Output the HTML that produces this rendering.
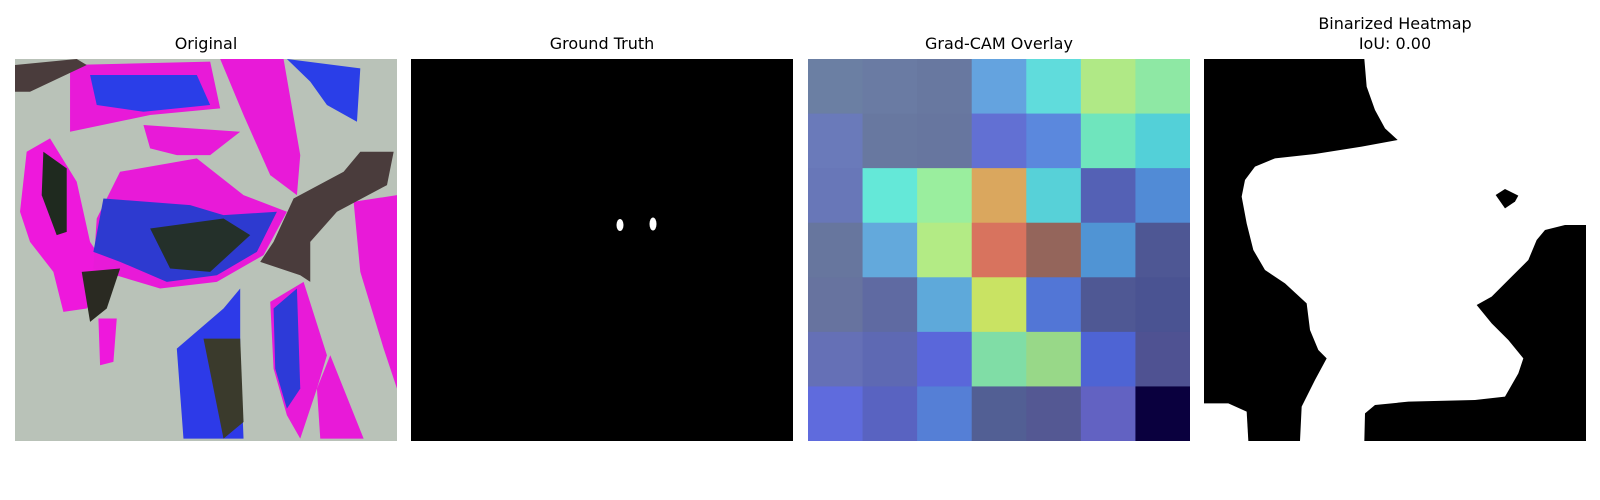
<!DOCTYPE html>
<html><head><meta charset="utf-8">
<style>
body{margin:0;background:#fff;width:1600px;height:500px;position:relative;overflow:hidden;font-family:"Liberation Sans","DejaVu Sans",sans-serif;}
.t{position:absolute;font-size:16px;color:#000;text-align:center;width:382px;line-height:20px;font-family:"DejaVu Sans","Liberation Sans",sans-serif;}
.p{position:absolute;top:59px;width:382px;height:382px;}
</style></head><body>
<div class="t" style="left:15px;top:34px">Original</div>
<div class="t" style="left:411px;top:34px">Ground Truth</div>
<div class="t" style="left:808px;top:34px">Grad-CAM Overlay</div>
<div class="t" style="left:1204px;top:14px">Binarized Heatmap<br>IoU: 0.00</div>

<svg class="p" style="left:15px" viewBox="15 12 1145 1145" preserveAspectRatio="none">
<rect x="15" y="12" width="1145" height="1145" fill="#b9c2b8"/>
<path d="M180,30 L600,20 L630,160 L420,180 L180,230 Z" fill="#e81ad8"/>
<path d="M240,60 L560,60 L600,150 L400,170 L260,150 Z" fill="#2a3ee8"/>
<path d="M630,12 L820,12 L870,300 L860,420 L780,360 L700,180 Z" fill="#e81ad8"/>
<path d="M830,12 L1050,40 L1040,200 L950,150 L900,80 Z" fill="#2a3ee8"/>
<path d="M400,210 L690,230 L600,300 L500,300 L420,280 Z" fill="#e81ad8"/>
<path d="M50,290 L120,250 L200,380 L240,560 L300,650 L230,760 L160,770 L130,650 L60,560 L30,470 Z" fill="#ee18dc"/>
<path d="M100,290 L170,340 L170,530 L140,540 L95,420 Z" fill="#1f2a1f"/>
<path d="M330,350 L560,310 L700,420 L830,470 L760,600 L620,680 L450,700 L250,640 L260,490 Z" fill="#e81ad8"/>
<path d="M280,430 L540,450 L640,480 L800,470 L740,590 L620,660 L470,680 L330,620 L250,590 Z" fill="#2d3ad0"/>
<path d="M420,520 L640,490 L720,540 L600,650 L480,640 Z" fill="#24302a"/>
<path d="M215,650 L330,640 L290,760 L240,800 Z" fill="#2a2a22"/>
<path d="M265,790 L320,790 L310,920 L270,930 Z" fill="#ee18dc"/>
<path d="M500,880 L640,760 L690,700 L690,900 L700,1150 L520,1150 Z" fill="#2d3ae8"/>
<path d="M580,850 L690,850 L700,1100 L640,1150 Z" fill="#3a3a2c"/>
<path d="M780,740 L880,680 L950,900 L920,1000 L870,1150 L830,1080 L790,940 Z" fill="#e81ad8"/>
<path d="M790,760 L860,700 L870,1000 L830,1060 L795,940 Z" fill="#2d3ad8"/>
<path d="M920,1000 L960,900 L1060,1150 L930,1150 Z" fill="#e81ad8"/>
<path d="M1030,440 L1160,420 L1160,1000 L1120,880 L1050,650 Z" fill="#e81ad8"/>
<path d="M850,430 L1000,350 L1050,290 L1150,290 L1130,390 L980,470 L900,560 L900,680 L870,660 L750,620 L790,560 Z" fill="#4a3c3c"/>
<path d="M15,30 L200,12 L230,30 L60,110 L15,110 Z" fill="#4a3c3c"/>
</svg>

<svg class="p" style="left:411px" viewBox="0 0 382 382">
<rect width="382" height="382" fill="#000"/>
<ellipse cx="209" cy="166" rx="3.5" ry="6" fill="#fff"/>
<ellipse cx="242" cy="165" rx="3.5" ry="6.5" fill="#fff"/>
</svg>

<svg class="p" id="cam" style="left:808px" viewBox="0 0 382 382"></svg>

<svg class="p" style="left:1204px" viewBox="87 147 1146 1146" preserveAspectRatio="none">
<rect x="87" y="147" width="1146" height="1146" fill="#000"/>
<path fill="#fff" d="M568,147 L575,230 L600,300 L630,355 L668,390 L560,410 L420,432 L300,445 L240,470 L210,510 L200,560 L215,640 L235,720 L270,780 L330,820 L395,880 L405,960 L430,1020 L455,1045 L420,1110 L380,1190 L375,1293 L568,1293 L570,1210 L600,1185 L700,1175 L900,1170 L990,1160 L1030,1090 L1045,1045 L1000,990 L950,940 L905,885 L950,860 L1010,800 L1060,750 L1085,690 L1110,660 L1170,645 L1233,645 L1233,147 Z"/>
<path fill="#fff" d="M87,1180 L160,1180 L215,1205 L220,1293 L87,1293 Z"/>
<path fill="#000" d="M962,555 L990,537 L1030,557 L1020,575 L990,595 Z"/>
</svg>

<script>
const camRow0 = ["#6b7fa3","#6a7ba3","#6878a0","#64a3df","#60dcdc","#b0e986","#8ee8a4"];
const camRow1 = ["#6a7aba","#6878a0","#67769f","#6270d3","#5b88dd","#6fe5bd","#53d0d8"];
const camRow2 = ["#6877b8","#64e8d8","#9aee9e","#daa75e","#57d1d8","#5461b5","#518bd6"];
const camRow3 = ["#67769e","#63a9dc","#b3eb85","#d8735e","#94655b","#5094d4","#4e5794"];
const camRow4 = ["#67739f","#5f6aa2","#5ea9da","#c9e363","#5276d6","#4f5894","#4a5392"];
const camRow5 = ["#6570b6","#5e69b3","#5a67da","#80dda6","#98d888","#4e64d4","#4f5292"];
const camRow6 = ["#5f6bdd","#5963c1","#557fd6","#525f94","#545893","#6262c2","#0a003e"];
const camRows = [camRow0,camRow1,camRow2,camRow3,camRow4,camRow5,camRow6];
const svg = document.getElementById('cam');
const n = camRows.length, size = 382 / n;
camRows.forEach((row, r) => row.forEach((c, k) => {
  const el = document.createElementNS('http://www.w3.org/2000/svg', 'rect');
  el.setAttribute('x', k * size);
  el.setAttribute('y', r * size);
  el.setAttribute('width', size + 0.5);
  el.setAttribute('height', size + 0.5);
  el.setAttribute('fill', c);
  
  
  svg.appendChild(el);
}));
</script>
</body></html>
